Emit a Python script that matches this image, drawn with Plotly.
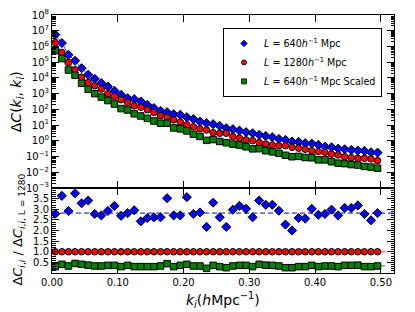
import plotly.graph_objects as go

k = [0.005, 0.015, 0.025, 0.035, 0.045, 0.055, 0.065, 0.075, 0.085, 0.095,
     0.105, 0.115, 0.125, 0.135, 0.145, 0.155, 0.165, 0.175, 0.185, 0.195,
     0.205, 0.215, 0.225, 0.235, 0.245, 0.255, 0.265, 0.275, 0.285, 0.295,
     0.305, 0.315, 0.325, 0.335, 0.345, 0.355, 0.365, 0.375, 0.385, 0.395,
     0.405, 0.415, 0.425, 0.435, 0.445, 0.455, 0.465, 0.475, 0.485, 0.495]

# log10 of Delta C(k_i,k_i)
blue_log10 = [6.75, 6.22, 5.47, 5.09, 4.62, 4.20, 3.94, 3.67, 3.45, 3.18,
              2.92, 2.71, 2.65, 2.50, 2.29, 2.08, 1.90, 1.82, 1.69, 1.65,
              1.50, 1.38, 1.22, 1.12, 1.06, 0.95, 0.80, 0.74, 0.65, 0.55,
              0.48, 0.38, 0.31, 0.23, 0.12, 0.06, -0.05, -0.07, -0.15, -0.18,
              -0.26, -0.37, -0.41, -0.50, -0.54, -0.58, -0.62, -0.64, -0.73, -0.75]
red_log10 = [6.25, 5.62, 4.98, 4.52, 4.05, 3.71, 3.50, 3.29, 2.99, 2.82,
             2.61, 2.43, 2.22, 2.14, 1.97, 1.80, 1.59, 1.50, 1.33, 1.20,
             1.02, 0.90, 0.76, 0.69, 0.52, 0.48, 0.48, 0.27, 0.17, 0.06,
             0.01, -0.11, -0.20, -0.26, -0.31, -0.32, -0.41, -0.47, -0.54, -0.64,
             -0.69, -0.73, -0.85, -0.90, -1.01, -1.07, -1.11, -1.11, -1.15, -1.26]
green_log10 = [5.73, 5.23, 4.50, 4.17, 3.66, 3.28, 3.00, 2.78, 2.56, 2.34,
               2.05, 1.96, 1.72, 1.58, 1.43, 1.26, 1.12, 1.12, 0.82, 0.76,
               0.63, 0.42, 0.28, 0.03, 0.08, -0.04, -0.12, -0.21, -0.27, -0.38,
               -0.51, -0.50, -0.63, -0.70, -0.79, -0.92, -1.01, -0.99, -1.06, -1.08,
               -1.21, -1.21, -1.33, -1.42, -1.45, -1.51, -1.54, -1.63, -1.67, -1.74]

# ratios to L=1280
ratio_blue = [2.79, 3.63, 2.92, 3.75, 3.28, 3.41, 2.78, 2.71, 2.92, 3.16,
              2.69, 2.82, 2.95, 2.43, 2.59, 2.62, 2.62, 3.52, 2.71, 2.71,
              3.57, 2.78, 2.85, 2.17, 3.31, 2.62, 2.17, 2.98, 3.16, 3.02,
              2.62, 3.41, 3.21, 3.21, 2.93, 2.28, 2.00, 2.59, 2.56, 3.02,
              2.74, 2.78, 2.98, 2.71, 3.06, 3.06, 3.18, 2.78, 2.48, 2.82]
ratio_red = [1.0, 1.0, 1.0, 1.0, 1.0, 1.0, 1.0, 1.0, 1.0, 1.0,
             1.0, 1.0, 1.0, 1.0, 1.0, 1.0, 1.0, 1.0, 1.0, 1.0,
             1.0, 1.0, 1.0, 1.0, 1.0, 1.0, 1.0, 1.0, 1.0, 1.0,
             1.0, 1.0, 1.0, 1.0, 1.0, 1.0, 1.0, 1.0, 1.0, 1.0,
             1.0, 1.0, 1.0, 1.0, 1.0, 1.0, 1.0, 1.0, 1.0, 1.0]
ratio_green = [0.30, 0.41, 0.33, 0.45, 0.41, 0.37, 0.33, 0.33, 0.36, 0.36,
               0.30, 0.36, 0.30, 0.30, 0.30, 0.30, 0.33, 0.44, 0.30, 0.36,
               0.41, 0.33, 0.33, 0.22, 0.36, 0.30, 0.25, 0.33, 0.36, 0.36,
               0.30, 0.41, 0.37, 0.36, 0.33, 0.25, 0.25, 0.30, 0.30, 0.36,
               0.30, 0.33, 0.33, 0.30, 0.36, 0.36, 0.37, 0.30, 0.30, 0.33]

mean_blue = 2.82
mean_red = 1.0
mean_green = 0.34

labels = ["<i>L</i> = 640<i>h</i><sup>−1</sup> Mpc",
          "<i>L</i> = 1280<i>h</i><sup>−1</sup> Mpc",
          "<i>L</i> = 640<i>h</i><sup>−1</sup> Mpc Scaled"]

BLUE = "#0000ff"
RED = "#ff0000"
GREEN = "#008000"
FONT = "DejaVu Sans"

fig = go.Figure()

specs = [
    (blue_log10, ratio_blue, BLUE, "diamond", 7, labels[0]),
    (red_log10, ratio_red, RED, "circle", 6.5, labels[1]),
    (green_log10, ratio_green, GREEN, "square", 6.5, labels[2]),
]

# connecting lines (top panel)
for lg, rat, col, sym, sz, lab in specs:
    fig.add_trace(go.Scatter(
        x=k, y=[10 ** v for v in lg], mode="lines",
        line=dict(color=col, width=1), opacity=0.75,
        xaxis="x", yaxis="y", showlegend=False, hoverinfo="skip"))

# markers (top panel)
for lg, rat, col, sym, sz, lab in specs:
    fig.add_trace(go.Scatter(
        x=k, y=[10 ** v for v in lg], mode="markers", name=lab,
        marker=dict(symbol=sym, size=sz, color=col, line=dict(color="black", width=1)),
        xaxis="x", yaxis="y", showlegend=False))

# legend entries (small markers like the reference)
for lg, rat, col, sym, sz, lab in specs:
    fig.add_trace(go.Scatter(
        x=[None], y=[None], mode="markers", name=lab,
        marker=dict(symbol=sym, size=5, color=col, line=dict(color="black", width=0.8)),
        xaxis="x", yaxis="y", showlegend=True))

# mean lines in ratio panel
fig.add_trace(go.Scatter(x=[0, 0.52], y=[mean_blue, mean_blue], mode="lines",
                         line=dict(color="rgba(30,30,255,0.9)", width=1.2, dash="5px,3px"),
                         xaxis="x2", yaxis="y2", showlegend=False, hoverinfo="skip"))
fig.add_trace(go.Scatter(x=[0, 0.507], y=[mean_red, mean_red], mode="lines",
                         line=dict(color="rgba(255,0,0,0.45)", width=2.2),
                         xaxis="x2", yaxis="y2", showlegend=False, hoverinfo="skip"))
fig.add_trace(go.Scatter(x=[0, 0.507], y=[mean_green, mean_green], mode="lines",
                         line=dict(color="rgba(0,128,0,0.6)", width=1.5, dash="5px,3px"),
                         xaxis="x2", yaxis="y2", showlegend=False, hoverinfo="skip"))

for lg, rat, col, sym, sz, lab in specs:
    fig.add_trace(go.Scatter(
        x=k, y=rat, mode="markers", name=lab,
        marker=dict(symbol=sym, size=sz, color=col, line=dict(color="black", width=1)),
        xaxis="x2", yaxis="y2", showlegend=False))

split = 85 / 258

common_axis = dict(showline=True, linecolor="black", linewidth=1, mirror="allticks",
                   ticks="inside", tickcolor="black", ticklen=7, showgrid=False,
                   zeroline=False, automargin=False,
                   tickfont=dict(family=FONT, size=10, color="black"))

dec = list(range(-3, 9))
# the page body adds an 8px offset; the figure is sized to fill the rest of the window
fig.update_layout(
    width=407, height=304,
    margin=dict(l=44, r=21, t=7, b=39, autoexpand=False),
    paper_bgcolor="white", plot_bgcolor="white",
    font=dict(family=FONT, size=10, color="black"),
    xaxis=dict(common_axis, domain=[0, 1], anchor="y", range=[0, 0.52],
               tickvals=[0, 0.1, 0.2, 0.3, 0.4, 0.5], showticklabels=False),
    yaxis=dict(common_axis, domain=[split, 1], anchor="x", type="log", range=[-3, 8],
               tickvals=[10 ** d for d in dec],
               ticktext=[f"10<sup>{d}</sup>".replace("-", "−") for d in dec],
               minor=dict(ticks="inside", ticklen=3.5, tickcolor="black",
                          dtick="D1", showgrid=False)),
    xaxis2=dict(common_axis, domain=[0, 1], anchor="y2", range=[0, 0.52],
                tickvals=[0, 0.1, 0.2, 0.3, 0.4, 0.5],
                ticktext=["0.00", "0.10", "0.20", "0.30", "0.40", "0.50"]),
    yaxis2=dict(common_axis, domain=[0, split], anchor="x2", range=[0, 4],
                tickvals=[0.5, 1.0, 1.5, 2.0, 2.5, 3.0, 3.5],
                ticktext=["0.5", "1.0", "1.5", "2.0", "2.5", "3.0", "3.5"],
                minor=dict(ticks="inside", ticklen=3.5, tickcolor="black",
                           dtick=0.1, showgrid=False)),
    legend=dict(x=0.5, y=0.95, xanchor="left", yanchor="top",
                bgcolor="white", bordercolor="black", borderwidth=1,
                font=dict(family=FONT, size=9.6, color="black"),
                tracegroupgap=3),
    showlegend=True,
)

fig.add_annotation(text="Δ<i>C</i>(<i>k<sub>i</sub></i>, <i>k<sub>i</sub></i>)",
                   xref="paper", yref="paper", x=-0.1, y=0.665, textangle=-90,
                   showarrow=False, xanchor="center", yanchor="middle",
                   font=dict(family=FONT, size=14, color="black"))
fig.add_annotation(text="Δ<i>C</i><sub><i>i</i>,<i>i</i></sub> / Δ<i>C</i><sub><i>i</i>,<i>i</i>, L = 1280</sub>",
                   xref="paper", yref="paper", x=-0.098, y=0.17, textangle=-90,
                   showarrow=False, xanchor="center", yanchor="middle",
                   font=dict(family=FONT, size=13, color="black"))
fig.add_annotation(text="<i>k<sub>i</sub></i>(<i>h</i>Mpc<sup>−1</sup>)",
                   xref="paper", yref="paper", x=0.5, y=-0.105,
                   showarrow=False, xanchor="center", yanchor="middle",
                   font=dict(family=FONT, size=14, color="black"))

fig.write_html("out.html")
